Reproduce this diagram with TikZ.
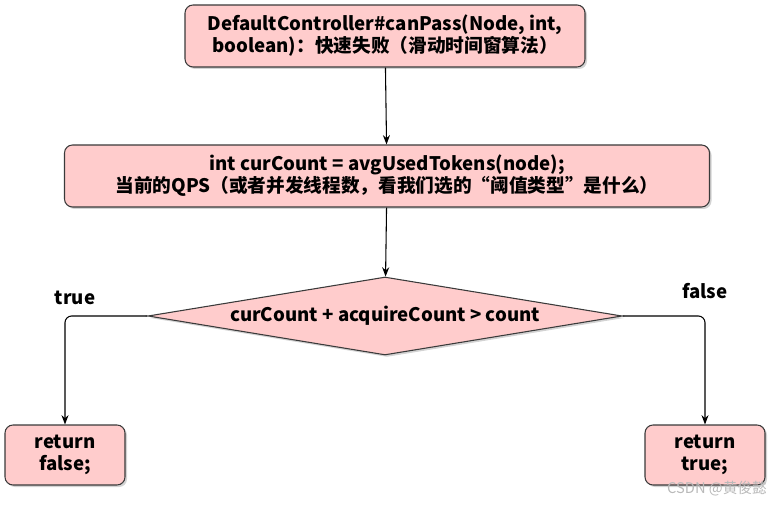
\documentclass[tikz,border=0pt]{standalone}
\usepackage{fontspec}
\setmainfont{Noto Sans CJK SC}
\usetikzlibrary{arrows.meta,shapes.geometric,shadows}
\definecolor{boxpink}{HTML}{FFCCCC}
\definecolor{boxline}{HTML}{3A3A3A}

\begin{document}
\begin{tikzpicture}[x=0.75pt,y=-0.75pt,font=\fontsize{14}{16.5}\selectfont\bfseries]
\useasboundingbox (0,0) rectangle (784,505);
\begin{scope}[every node/.style={draw=boxline,fill=boxpink,thick,rounded corners=6pt,align=center,inner sep=2pt,drop shadow={opacity=0.35,shadow xshift=1.5pt,shadow yshift=-1.5pt}}]
    \node [minimum width=300pt, minimum height=46.5pt] (start) at (385,36) {DefaultController\#canPass(Node, int,\\boolean)：快速失败（滑动时间窗算法）};
    \node [minimum width=483.75pt, minimum height=46.5pt] (count) at (387,176) {int curCount = avgUsedTokens(node);\\当前的QPS（或者并发线程数，看我们选的“阈值类型”是什么）};
    \node [diamond, sharp corners, aspect=6, inner sep=0pt, minimum width=355.5pt, minimum height=58.5pt] (check) at (385,316) {curCount + acquireCount > count};
    \node [minimum width=90pt, minimum height=45pt] (no) at (65,455) {return\\false;};
    \node [minimum width=90pt, minimum height=45pt] (yes) at (705,455) {return\\true;};
\end{scope}

\node (truelbl) at (75,298) {true};
\node (falselbl) at (705,291) {false};
\node [text=gray!55, font=\fontsize{11}{13}\selectfont] (mark) at (717,489) {CSDN @黄俊懿};

\path [thick,-{Stealth[length=7pt]}] (start) edge (count);
\path [thick,-{Stealth[length=7pt]}] (count) edge (check);
\draw [thick,-{Stealth[length=7pt]},rounded corners=5pt] (check.west) -| (no.north);
\draw [thick,-{Stealth[length=7pt]},rounded corners=5pt] (check.east) -| (yes.north);

\end{tikzpicture}
\end{document}
